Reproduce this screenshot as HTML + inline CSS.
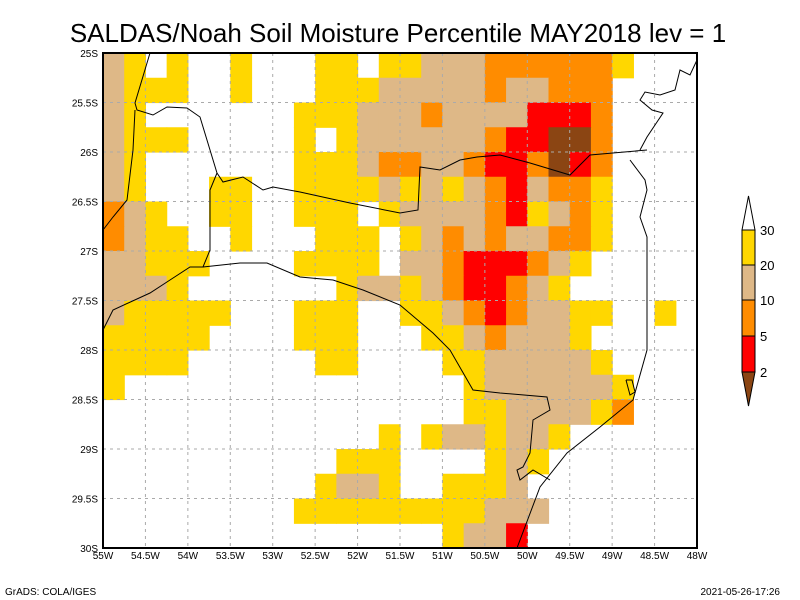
<!DOCTYPE html>
<html><head><meta charset="utf-8">
<style>
body{margin:0;background:#fff;}
svg{display:block;font-family:"Liberation Sans",sans-serif;}
</style></head>
<body>
<svg id="chart" width="800" height="600" viewBox="0 0 800 600">
<rect width="800" height="600" fill="#fff"/>
<text x="398" y="42" text-anchor="middle" font-size="26">SALDAS/Noah Soil Moisture Percentile MAY2018 lev = 1</text>
<g id="cells"></g>
<g id="grid"></g>
<g id="borders" fill="none" stroke="#000" stroke-width="1"></g>
<rect x="103" y="53" width="594" height="495" fill="none" stroke="#000" stroke-width="2"/>
<g id="xlabels" font-size="10"></g>
<g id="ylabels" font-size="10"></g>
<g id="legend"></g>
<text x="5" y="595" font-size="10">GrADS: COLA/IGES</text>
<text x="780" y="595" font-size="10" text-anchor="end">2021-05-26-17:26</text>
</svg>
<script>
// categories: 0 none, 1 20-30, 2 10-20, 3 5-10, 4 2-5, 5 <2
const levelLabels = ["30","20","10","5","2"];
const lonTicks = [-55,-54.5,-54,-53.5,-53,-52.5,-52,-51.5,-51,-50.5,-50,-49.5,-49,-48.5,-48];
const latTicks = [-25,-25.5,-26,-26.5,-27,-27.5,-28,-28.5,-29,-29.5,-30];
const gridRows = [
"2101001000110112223333331000",
"2111001000111222223223330000",
"2100000001112223222244430000",
"2111000001012222223445530000",
"2100000001112332234435430000",
"2100011001111212123423310000",
"3210011001110122223412310000",
"3211001000111012323223310000",
"2211100001111022344432100000",
"2221000000012212344321000000",
"2111110001110011234322110010",
"1111100001110001123222100000",
"1111000000110000112222210000",
"1000000000000000012222221000",
"0000000000000000011222213000",
"0000000000000101221221000000",
"0000000000011100001210000000",
"0000000000122100111200000000",
"0000000001111111112220000000",
"0000000000000000122400000000"
];
const colors = ["none","#ffd700","#deb887","#ff8c00","#ff0000","#8b4513"];
const ns="http://www.w3.org/2000/svg";
const X0=103,X1=697,Y0=53,Y1=548;
function xs(lon){return X0+(lon+55)/7*(X1-X0);}
function ys(lat){return Y0+(-25-lat)/5*(Y1-Y0);}
const cells=document.getElementById('cells');
const dLon=0.25,dLat=0.25;
gridRows.forEach((row,j)=>{
  for(let i=0;i<row.length;i++){
    const v=+row[i]; if(!v) continue;
    const lon=-55+i*dLon, lat=-25-j*dLat;
    const r=document.createElementNS(ns,'rect');
    const x=xs(lon),y=ys(lat);
    r.setAttribute('x',x);r.setAttribute('y',y);
    r.setAttribute('width',xs(lon+dLon)-x+0.6);r.setAttribute('height',ys(lat-dLat)-y+0.6);
    r.setAttribute('fill',colors[v]);
    
    
    cells.appendChild(r);
  }
});
const grid=document.getElementById('grid');
lonTicks.forEach((lon,k)=>{
  const x=xs(lon);
  if(k>0&&k<lonTicks.length-1){
    const l=document.createElementNS(ns,'line');
    l.setAttribute('x1',x);l.setAttribute('x2',x);l.setAttribute('y1',Y0);l.setAttribute('y2',Y1);
    l.setAttribute('stroke','#aaa');l.setAttribute('stroke-dasharray','3,4');
    
    
    grid.appendChild(l);
  }
  const t=document.createElementNS(ns,'text');
  t.setAttribute('x',x);t.setAttribute('y',Y1+11);t.setAttribute('text-anchor','middle');
  t.textContent=Math.abs(lon)+'W';
  
  
  document.getElementById('xlabels').appendChild(t);
});
latTicks.forEach((lat,k)=>{
  const y=ys(lat);
  if(k>0&&k<latTicks.length-1){
    const l=document.createElementNS(ns,'line');
    l.setAttribute('x1',X0);l.setAttribute('x2',X1);l.setAttribute('y1',y);l.setAttribute('y2',y);
    l.setAttribute('stroke','#aaa');l.setAttribute('stroke-dasharray','3,4');
    
    
    grid.appendChild(l);
  }
  const t=document.createElementNS(ns,'text');
  t.setAttribute('x',X0-5);t.setAttribute('y',y+4);t.setAttribute('text-anchor','end');
  t.textContent=Math.abs(lat)+'S';
  
  
  document.getElementById('ylabels').appendChild(t);
});
// borders (pixel polylines of geography)
const lines=[
"150,53 135,103 137,110 153,115 167,107 187,108 200,117 217,173 223,182 243,177 263,190 273,187 300,192 350,203 400,213 418,210 420,167 440,170 460,160 477,157 500,155 530,163 570,175 590,155 647,150",
"135,110 133,150 127,200 113,217 103,230",
"217,173 210,190 210,250 203,267 190,267 170,280 150,293 113,310 103,330",
"203,267 240,263 267,263 300,277 333,280 363,290 400,305 433,333 450,350 473,390 500,393 547,397 550,410 533,420 530,453 523,467 517,470 520,480 533,470 550,480",
"697,60 690,75 680,70 675,90 660,95 645,92 640,100 652,110 663,113 655,125 647,137 640,150",
"630,160 645,180 647,190 640,217 647,237 647,283 647,350 633,400 600,427 567,453 540,487 517,548",
"626,380 630,395 635,392 632,380 626,380"
];
lines.forEach(p=>{
  const pl=document.createElementNS(ns,'polyline');
  pl.setAttribute('points',p);
  
  
  document.getElementById('borders').appendChild(pl);
});
// legend
const lg=document.getElementById('legend');
const segTop=[230,265,300,336], segCols=[1,2,3,4];
const upTri=document.createElementNS(ns,'polygon');
upTri.setAttribute('points','742,230 755,230 748.5,196');upTri.setAttribute('fill','#fff');upTri.setAttribute('stroke','#000');


lg.appendChild(upTri);
segTop.forEach((y,k)=>{
  const r=document.createElementNS(ns,'rect');
  r.setAttribute('x',742);r.setAttribute('y',y);r.setAttribute('width',13);
  r.setAttribute('height',(k<3?segTop[k+1]:372)-y);
  r.setAttribute('fill',colors[segCols[k]]);r.setAttribute('stroke','#000');
  
  
  lg.appendChild(r);
});
const downTri=document.createElementNS(ns,'polygon');
downTri.setAttribute('points','742,372 755,372 748.5,406');downTri.setAttribute('fill',colors[5]);downTri.setAttribute('stroke','#000');


lg.appendChild(downTri);
[230,265,300,336,372].forEach((y,k)=>{
  const t=document.createElementNS(ns,'text');
  t.setAttribute('x',760);t.setAttribute('y',y+5);t.setAttribute('font-size','13');
  t.textContent=levelLabels[k];
  
  
  lg.appendChild(t);
});
</script>
</body></html>
